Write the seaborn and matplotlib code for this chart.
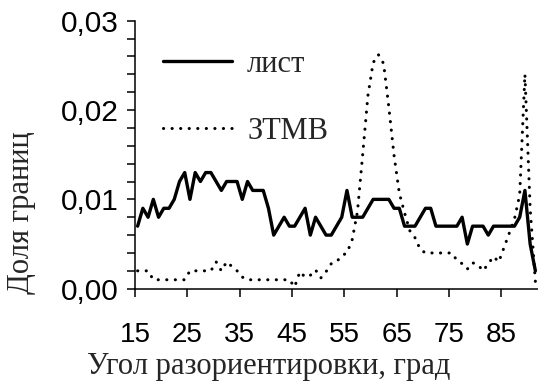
import matplotlib
matplotlib.use("Agg")
import matplotlib.pyplot as plt
import matplotlib.ticker as mticker
import seaborn as sns
import pandas as pd

angles = [15.5, 16.5, 17.5, 18.5, 19.5, 20.5, 21.5, 22.5, 23.5, 24.5,
          25.5, 26.5, 27.5, 28.5, 29.5, 30.5, 31.5, 32.5, 33.5, 34.5,
          35.5, 36.5, 37.5, 38.5, 39.5, 40.5, 41.5, 42.5, 43.5, 44.5,
          45.5, 46.5, 47.5, 48.5, 49.5, 50.5, 51.5, 52.5, 53.5, 54.5,
          55.5, 56.5, 57.5, 58.5, 59.5, 60.5, 61.5, 62.5, 63.5, 64.5,
          65.5, 66.5, 67.5, 68.5, 69.5, 70.5, 71.5, 72.5, 73.5, 74.5,
          75.5, 76.5, 77.5, 78.5, 79.5, 80.5, 81.5, 82.5, 83.5, 84.5,
          85.5, 86.5, 87.5, 88.5, 89.5, 90.5, 91.5]

list_vals = [0.007, 0.009, 0.008, 0.010, 0.008, 0.009, 0.009, 0.010, 0.012, 0.013,
             0.010, 0.013, 0.012, 0.013, 0.013, 0.012, 0.011, 0.012, 0.012, 0.012,
             0.010, 0.012, 0.011, 0.011, 0.011, 0.009, 0.006, 0.007, 0.008, 0.007,
             0.007, 0.008, 0.009, 0.006, 0.008, 0.007, 0.006, 0.006, 0.007, 0.008,
             0.011, 0.008, 0.008, 0.008, 0.009, 0.010, 0.010, 0.010, 0.010, 0.009,
             0.009, 0.007, 0.007, 0.007, 0.008, 0.009, 0.009, 0.007, 0.007, 0.007,
             0.007, 0.007, 0.008, 0.005, 0.007, 0.007, 0.007, 0.006, 0.007, 0.007,
             0.007, 0.007, 0.007, 0.008, 0.011, 0.005, 0.002]

ztmv_vals = [0.002, 0.002, 0.002, 0.001, 0.001, 0.001, 0.001, 0.001, 0.001, 0.001,
             0.002, 0.002, 0.002, 0.002, 0.002, 0.003, 0.002, 0.003, 0.0025, 0.002,
             0.0013, 0.001, 0.001, 0.001, 0.001, 0.001, 0.001, 0.001, 0.001, 0.001,
             0.0002, 0.0019, 0.0013, 0.0015, 0.0021, 0.0012, 0.0019, 0.0028, 0.003, 0.0037,
             0.004, 0.0055, 0.0086, 0.015, 0.0216, 0.0253, 0.0262, 0.0252, 0.0203, 0.0149,
             0.0107, 0.0085, 0.0065, 0.0057, 0.0044, 0.004, 0.004, 0.004, 0.004, 0.004,
             0.004, 0.0032, 0.0028, 0.0022, 0.0029, 0.0027, 0.002, 0.0028, 0.0036, 0.003,
             0.0046, 0.0062, 0.0078, 0.0105, 0.024, 0.009, 0.0008]

series_names = ["лист", "ЗТМВ"]
x_ticks = [15, 25, 35, 45, 55, 65, 75, 85]
y_ticks = [0.00, 0.01, 0.02, 0.03]
x_label = "Угол разориентировки, град"
y_label = "Доля границ"

sns.set_style("ticks")
plt.rcParams["font.family"] = ["Liberation Sans", "DejaVu Sans"]

df = pd.DataFrame({
    "angle": angles * 2,
    "value": list_vals + ztmv_vals,
    "series": [series_names[0]] * len(angles) + [series_names[1]] * len(angles),
})

fig = plt.figure(figsize=(5.38, 3.85), dpi=100)
ax = fig.add_axes([135 / 538, 1 - 288.7 / 385, 1 - 135 / 538, 268 / 385])

sns.lineplot(data=df[df.series == series_names[0]], x="angle", y="value",
             color="black", linewidth=2.4, ax=ax, label=series_names[0])
sns.lineplot(data=df[df.series == series_names[1]], x="angle", y="value",
             color="black", linewidth=2.2, ax=ax, label=series_names[1])
dot_line = ax.lines[1]
dot_line.set_linestyle((0, (0.05, 2.75)))
dot_line.set_dash_capstyle("round")

ax.set_xlim(15, 92)
ax.set_ylim(0, 0.03)
ax.set_xticks(x_ticks)
ax.set_yticks(y_ticks)
ax.yaxis.set_minor_locator(mticker.MultipleLocator(0.002))
ax.yaxis.set_major_formatter(mticker.FuncFormatter(lambda v, p: f"{v:.2f}".replace(".", ",")))
ax.tick_params(axis="both", which="both", direction="out", length=6, width=1.1, colors="black")
ax.tick_params(axis="y", labelsize=21.5, pad=6)
ax.tick_params(axis="x", labelsize=20, pad=18)
for t in ax.get_xticklabels() + ax.get_yticklabels():
    t.set_fontfamily(["Liberation Sans", "DejaVu Sans"])

for s in ["top", "right"]:
    ax.spines[s].set_visible(False)
for s in ["left", "bottom"]:
    ax.spines[s].set_linewidth(1.1)
    ax.spines[s].set_color("black")

serif = ["Liberation Serif", "DejaVu Serif"]
ax.set_xlabel(x_label, fontsize=22, family=serif, va="top")
ax.xaxis.set_label_coords(0.333, -0.235)
ax.set_ylabel(y_label, fontsize=22, family=serif)
ax.yaxis.set_label_coords(-0.245, 0.282)

leg = ax.legend(loc="upper left", bbox_to_anchor=(0.0695, 0.892), frameon=False,
                prop={"family": serif, "size": 22}, handlelength=2.25,
                handletextpad=0.5, labelspacing=1.26, borderpad=0, borderaxespad=0)
lh = leg.get_lines()
lh[0].set_linewidth(2.4)
lh[1].set_linewidth(2.2)
lh[1].set_linestyle((0, (0.05, 2.75)))
lh[1].set_dash_capstyle("round")

fig.savefig("out.png", dpi=100)
